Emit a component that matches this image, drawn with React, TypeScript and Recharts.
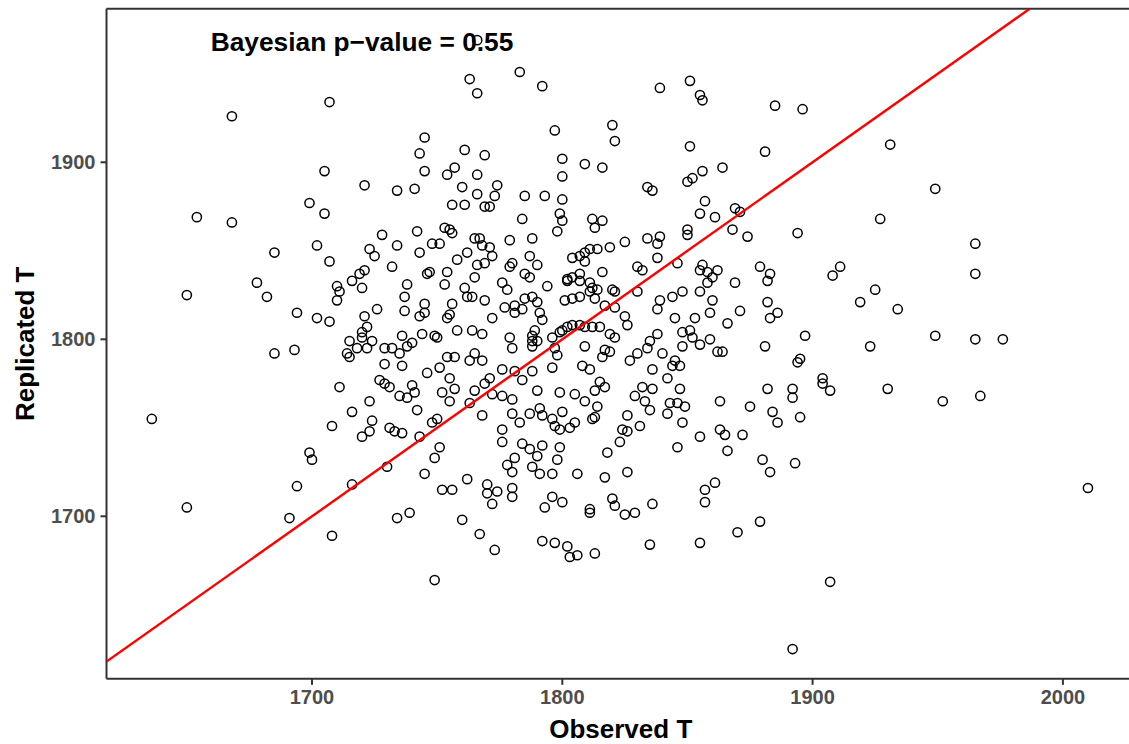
import React from 'react';
import { ScatterChart, Scatter, XAxis, YAxis, ReferenceDot, ReferenceLine, Label } from 'recharts';

// Posterior predictive check: observed statistic T vs replicated statistic T
const observedT = [
  1707, 1668, 1705, 1699, 1705, 1654, 1668, 1766, 1763, 1766,
  1783, 1792, 1745, 1743, 1761, 1769, 1797, 1820, 1821, 1800,
  1809, 1816, 1800, 1745, 1757, 1754, 1766, 1760, 1774, 1721,
  1734, 1741, 1766, 1773, 1785, 1793, 1800, 1756, 1761, 1769,
  1771, 1784, 1799, 1800, 1812, 1816, 1813, 1798, 1728, 1742,
  1753, 1755, 1756, 1765, 1767, 1779, 1788, 1734, 1748, 1751,
  1839, 1851, 1855, 1856, 1885, 1896, 1851, 1881, 1864, 1856,
  1852, 1850, 1834, 1836, 1857, 1855, 1861, 1869, 1871, 1850,
  1850, 1868, 1874, 1894, 1834, 1839, 1825, 1838, 1931, 1949,
  1927, 1965, 1965, 1925, 1934, 1949, 1965, 1976, 1923, 1930,
  1952, 1967, 2010, 1838, 1846, 1830, 1832, 1856, 1855, 1858,
  1862, 1860, 1858, 1869, 1879, 1883, 1882, 1911, 1908, 1919,
  1830, 1848, 1844, 1855, 1860, 1839, 1838, 1825, 1826, 1845,
  1853, 1859, 1871, 1866, 1882, 1886, 1883, 1897, 1881, 1895,
  1894, 1904, 1904, 1907, 1882, 1892, 1892, 1875, 1884, 1886,
  1895, 1863, 1872, 1863, 1865, 1855, 1866, 1846, 1848, 1851,
  1852, 1848, 1855, 1859, 1862, 1864, 1838, 1835, 1834, 1840,
  1830, 1827, 1845, 1847, 1844, 1836, 1842, 1832, 1836, 1829,
  1833, 1835, 1847, 1843, 1846, 1849, 1842, 1848, 1826, 1831,
  1824, 1826, 1823, 1768, 1771, 1772, 1723, 1725, 1743, 1762,
  1758, 1787, 1790, 1819, 1814, 1811, 1809, 1807, 1804, 1809,
  1732, 1746, 1747, 1754, 1766, 1769, 1765, 1780, 1779, 1785,
  1787, 1816, 1802, 1804, 1802, 1807, 1807, 1811, 1738, 1753,
  1776, 1778, 1794, 1761, 1762, 1764, 1737, 1769, 1785, 1788,
  1790, 1801, 1804, 1807, 1812, 1814, 1811, 1813, 1820, 1821,
  1756, 1745, 1745, 1743, 1726, 1737, 1777, 1781, 1781, 1784,
  1791, 1792, 1817, 1821, 1755, 1754, 1772, 1758, 1764, 1768,
  1744, 1749, 1750, 1736, 1724, 1779, 1789, 1788, 1788, 1790,
  1788, 1796, 1799, 1800, 1802, 1804, 1807, 1809, 1812, 1815,
  1819, 1821, 1809, 1797, 1798, 1780, 1729, 1732, 1735, 1738,
  1740, 1754, 1757, 1765, 1763, 1768, 1817, 1819, 1816, 1808,
  1811, 1729, 1736, 1746, 1751, 1755, 1757, 1752, 1755, 1776,
  1781, 1784, 1771, 1769, 1765, 1763, 1772, 1776, 1780, 1790,
  1788, 1796, 1799, 1805, 1809, 1813, 1815, 1817, 1727, 1729,
  1731, 1740, 1741, 1735, 1738, 1742, 1723, 1724, 1723, 1731,
  1733, 1736, 1743, 1748, 1750, 1768, 1780, 1783, 1787, 1791,
  1792, 1796, 1797, 1800, 1799, 1803, 1805, 1812, 1813, 1814,
  1776, 1776, 1784, 1792, 1787, 1799, 1818, 1751, 1702, 1685,
  1707, 1721, 1719, 1716, 1720, 1710, 1711, 1710, 1678, 1682,
  1650, 1694, 1702, 1707, 1721, 1722, 1720, 1720, 1715, 1718,
  1722, 1714, 1715, 1693, 1685, 1711, 1716, 1708, 1720, 1636,
  1699, 1700, 1694, 1716, 1650, 1691, 1708, 1730, 1749, 1745,
  1762, 1752, 1756, 1770, 1770, 1774, 1772, 1778, 1781, 1780,
  1780, 1780, 1790, 1788, 1791, 1796, 1798, 1806, 1817, 1796,
  1793, 1800, 1811, 1811, 1820, 1821, 1734, 1739, 1760, 1767,
  1773, 1792, 1797, 1802, 1803, 1806, 1813, 1749, 1880, 1893,
  1883, 1826, 1861, 1857, 1857, 1836, 1825, 1829, 1835, 1855,
  1870, 1879, 1907, 1892,
];

const replicatedT = [
  1934, 1926, 1895, 1877, 1871, 1869, 1866, 1969, 1947, 1939,
  1951, 1943, 1914, 1905, 1907, 1904, 1918, 1921, 1912, 1902,
  1899, 1897, 1892, 1895, 1897, 1893, 1893, 1886, 1887, 1887,
  1884, 1885, 1882, 1881, 1881, 1881, 1879, 1876, 1876, 1875,
  1875, 1868, 1871, 1867, 1868, 1867, 1863, 1861, 1859, 1861,
  1863, 1862, 1860, 1857, 1857, 1856, 1857, 1853, 1854, 1854,
  1942, 1946, 1938, 1935, 1932, 1930, 1909, 1906, 1897, 1895,
  1891, 1889, 1886, 1884, 1878, 1871, 1869, 1874, 1872, 1862,
  1859, 1862, 1858, 1860, 1857, 1858, 1855, 1854, 1910, 1885,
  1868, 1854, 1837, 1828, 1817, 1802, 1800, 1800, 1796, 1772,
  1765, 1768, 1716, 1846, 1843, 1841, 1839, 1842, 1839, 1838,
  1839, 1835, 1832, 1832, 1841, 1837, 1833, 1841, 1836, 1821,
  1827, 1827, 1824, 1827, 1822, 1822, 1817, 1813, 1808, 1812,
  1812, 1815, 1816, 1809, 1821, 1815, 1812, 1802, 1796, 1789,
  1787, 1778, 1775, 1771, 1772, 1772, 1767, 1762, 1759, 1753,
  1756, 1765, 1746, 1749, 1746, 1745, 1737, 1739, 1804, 1805,
  1801, 1796, 1797, 1800, 1793, 1793, 1803, 1799, 1795, 1792,
  1792, 1788, 1788, 1785, 1785, 1783, 1778, 1773, 1772, 1768,
  1765, 1760, 1772, 1764, 1764, 1762, 1758, 1753, 1757, 1751,
  1749, 1748, 1742, 1853, 1852, 1847, 1851, 1847, 1849, 1849,
  1845, 1847, 1842, 1852, 1851, 1851, 1849, 1847, 1846, 1844,
  1841, 1837, 1838, 1838, 1842, 1843, 1835, 1843, 1841, 1837,
  1835, 1838, 1834, 1835, 1833, 1837, 1833, 1832, 1831, 1831,
  1832, 1828, 1830, 1829, 1824, 1824, 1824, 1822, 1823, 1824,
  1821, 1822, 1823, 1824, 1829, 1828, 1827, 1823, 1828, 1827,
  1820, 1820, 1815, 1813, 1817, 1816, 1818, 1819, 1815, 1817,
  1815, 1811, 1819, 1818, 1814, 1812, 1812, 1805, 1805, 1803,
  1803, 1802, 1801, 1802, 1799, 1801, 1805, 1802, 1799, 1799,
  1796, 1801, 1804, 1805, 1807, 1808, 1808, 1807, 1807, 1807,
  1803, 1801, 1796, 1795, 1791, 1795, 1795, 1795, 1792, 1796,
  1798, 1790, 1790, 1792, 1788, 1788, 1794, 1793, 1790, 1785,
  1783, 1786, 1785, 1781, 1784, 1778, 1772, 1770, 1765, 1783,
  1782, 1777, 1778, 1775, 1771, 1764, 1769, 1768, 1766, 1771,
  1782, 1784, 1770, 1769, 1765, 1771, 1776, 1773, 1777, 1775,
  1773, 1774, 1770, 1768, 1767, 1760, 1765, 1754, 1748, 1750,
  1748, 1747, 1745, 1753, 1755, 1757, 1758, 1753, 1758, 1761,
  1757, 1755, 1751, 1759, 1749, 1750, 1753, 1755, 1756, 1762,
  1749, 1742, 1741, 1740, 1738, 1739, 1736, 1739, 1853, 1849,
  1844, 1839, 1837, 1833, 1829, 1830, 1827, 1822, 1832, 1824,
  1825, 1815, 1812, 1810, 1813, 1807, 1804, 1801, 1799, 1795,
  1795, 1792, 1790, 1794, 1792, 1773, 1759, 1751, 1745, 1755,
  1736, 1732, 1717, 1718, 1705, 1699, 1689, 1728, 1733, 1724,
  1721, 1715, 1715, 1718, 1713, 1714, 1707, 1729, 1733, 1725,
  1716, 1711, 1734, 1728, 1724, 1724, 1732, 1724, 1722, 1711,
  1705, 1708, 1704, 1702, 1710, 1706, 1699, 1702, 1698, 1690,
  1681, 1686, 1685, 1683, 1677, 1678, 1679, 1664, 1732, 1730,
  1725, 1725, 1719, 1715, 1708, 1707, 1701, 1702, 1684, 1685,
  1691, 1697, 1663, 1625,
];

const xTicks = [1700, 1800, 1900, 2000];
const yTicks = [1700, 1800, 1900];
const xDomain: [number, number] = [1617.9, 2028.8];
const yDomain: [number, number] = [1608.2, 1986.7];

const bayesianP = 0.55;
const noteObserved = 1720;
const noteReplicated = 1968;

const FONT = "'Liberation Sans', Arial, Helvetica, sans-serif";

const draws = observedT.map((o, i) => ({ observed: o, replicated: replicatedT[i] }));

// y = x reference line, spanning from the left edge of the x range to the top of the y range
const identity = [xDomain[0], yDomain[1]].map((v) => ({ observed: v, replicated: v }));

const OpenCircle = (props: any) => (
  <circle cx={props.cx} cy={props.cy} r={4.6} fill="none" stroke="#000" strokeWidth={1.5} />
);

const NoteText = (props: any) => (
  <text
    x={props.cx}
    y={props.cy}
    textAnchor="middle"
    dominantBaseline="central"
    fontFamily={FONT}
    fontSize={26.3}
    fontWeight="bold"
    fill="#000"
  >
    {`Bayesian p\u2212value = ${bayesianP.toFixed(2)}`}
  </text>
);

export default function App() {
  const tickStyle = { fill: '#4D4D4D', fontSize: 20, fontWeight: 'bold', fontFamily: FONT };
  const lineStyle = { stroke: '#333333', strokeWidth: 2 };
  const titleStyle = { fontFamily: FONT, fontSize: 26, fontWeight: 'bold' as const };

  return (
    <div
      style={{
        position: 'absolute',
        left: 0,
        top: 0,
        width: 1129,
        height: 744,
        overflow: 'hidden',
        background: '#fff',
      }}
    >
      <ScatterChart width={1136.5} height={744} margin={{ top: 8.8, right: 1.5, bottom: 0, left: 0 }}>
        <XAxis
          type="number"
          dataKey="observed"
          domain={xDomain}
          ticks={xTicks}
          allowDataOverflow
          height={65.2}
          tickSize={6}
          tickMargin={5}
          tick={tickStyle}
          axisLine={lineStyle}
          tickLine={lineStyle}
        >
          <Label value="Observed T" position="insideBottom" offset={6} fill="#000" style={titleStyle} />
        </XAxis>
        <YAxis
          type="number"
          dataKey="replicated"
          domain={yDomain}
          ticks={yTicks}
          allowDataOverflow
          width={106.5}
          tickSize={6}
          tickMargin={5}
          tick={tickStyle}
          axisLine={lineStyle}
          tickLine={lineStyle}
        >
          <Label
            value="Replicated T"
            angle={-90}
            position="insideLeft"
            offset={25}
            fill="#000"
            style={{ ...titleStyle, textAnchor: 'middle' }}
          />
        </YAxis>
        {/* upper edge of the panel frame */}
        <ReferenceLine y={yDomain[1]} stroke="#333333" strokeWidth={2} ifOverflow="extendDomain" />
        <Scatter data={draws} shape={OpenCircle} isAnimationActive={false} />
        <Scatter
          data={identity}
          line={{ stroke: '#FF0000', strokeWidth: 2.4 }}
          shape={() => <g />}
          isAnimationActive={false}
        />
        <ReferenceDot x={noteObserved} y={noteReplicated} r={0} shape={NoteText} />
      </ScatterChart>
    </div>
  );
}
